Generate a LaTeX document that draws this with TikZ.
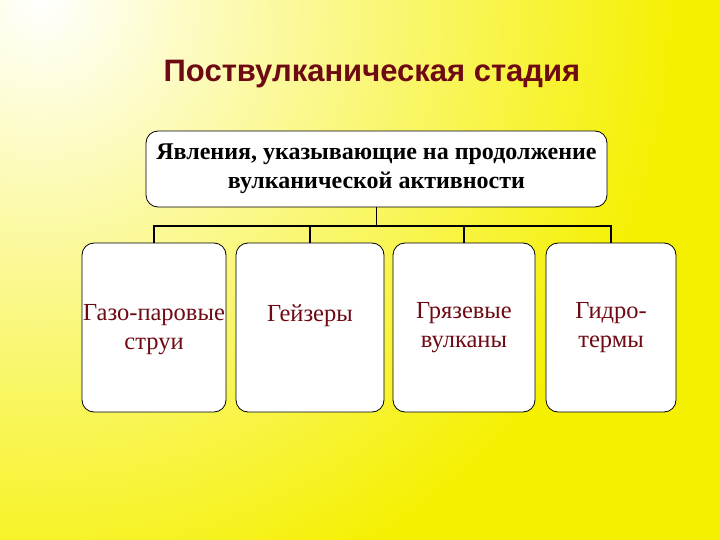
\documentclass[tikz,border=0pt]{standalone}
\usepackage{fontspec}
\setmainfont{Liberation Serif}
\newfontfamily\titlefont{Liberation Sans}
\begin{document}
\begin{tikzpicture}[x=1pt,y=-1pt,
  box/.style={draw=black,fill=white,rounded corners=12pt,line width=0.8pt},
  lbl/.style={text=darkred,font=\fontsize{24.5}{29}\selectfont,align=center},
  conn/.style={line width=1.2pt}]
\definecolor{darkred}{RGB}{110,10,20}
\definecolor{ybg}{RGB}{245,240,0}
\useasboundingbox (0,0) rectangle (720,540);
\begin{scope}
\clip (0,0) rectangle (720,540);
\fill[ybg] (0,0) rectangle (720,540);
\shade[inner color=white,outer color=ybg] (40,0) circle (640);
\end{scope}
\node[text=darkred,font=\titlefont\bfseries\fontsize{31}{36}\selectfont] (title) at (372,74) {Поствулканическая стадия};
\node[box,minimum width=461,minimum height=76] (top) at (376.5,169) {};
\node[font=\bfseries\fontsize{24}{29}\selectfont,align=center] (toptext) at (top) {Явления, указывающие на продолжение\\вулканической активности};
\node[box,minimum width=144,minimum height=169] (b1) at (154,327.5) {};
\node[box,minimum width=148,minimum height=169] (b2) at (310,327.5) {};
\node[box,minimum width=142,minimum height=169] (b3) at (464,327.5) {};
\node[box,minimum width=130,minimum height=169] (b4) at (611,327.5) {};
\node[lbl] (t1) at (154,330) {Газо-паровые\\струи};
\node[lbl] (t2) at (310,316) {Гейзеры};
\node[lbl] (t3) at (464,328) {Грязевые\\вулканы};
\node[lbl] (t4) at (611,328) {Гидро-\\термы};
\coordinate (hub) at (376.5,226);
\draw[conn] (top.south) -- (hub);
\draw[conn] (b1.north) |- (hub) -| (b4.north);
\draw[conn] (b2.north) -- (b2.north |- hub);
\draw[conn] (b3.north) -- (b3.north |- hub);
\end{tikzpicture}
\end{document}
